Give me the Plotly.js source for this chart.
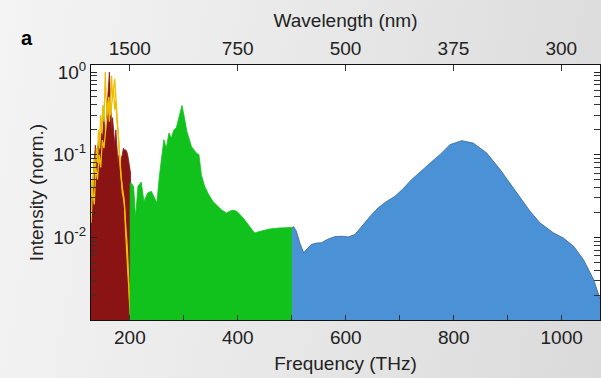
<!DOCTYPE html>
<html>
<head>
<meta charset="utf-8">
<script src="https://cdn.plot.ly/plotly-3.0.1.min.js"></script>
<style>
html,body{margin:0;padding:0;}
body{width:601px;height:378px;background:linear-gradient(100deg,#f4f4f4 0%,#e9e9e9 45%,#dadada 100%);overflow:hidden;}
#chart{width:601px;height:378px;}
</style>
</head>
<body>
<div id="chart"></div>
<script>
// ---- data ----
const FLOOR = 1e-4;
const SPEED_OF_LIGHT = 299792.458; // nm*THz

const redFreq = [128,130,132,134,136,138,140,142,144,146,148,150,151.5,153,155,157,159,160.5,162,163.5,165,166.5,168,170,172,174,176,178,180,182,184,186,188,190,192,194,196,198,200,201.3];
const redInt  = [0.02,0.034,0.05,0.08,0.13,0.09,0.11,0.15,0.1,0.14,0.2,0.15,0.34,0.22,0.15,0.3,0.5,0.8,1.0,0.6,0.35,0.2,0.28,0.18,0.13,0.2,0.12,0.08,0.1,0.065,0.09,0.1,0.12,0.113,0.115,0.11,0.1,0.08,0.07,0.06];

const yellowAFreq = [128,130,132,134,136,138,140,142,144,146,148,150,152,153.5,154.5,156,158,160,162,164,166,168,170,172,174,176,178,180,182,184,186,188,190,192,194,196,198,199,200,201];
const yellowAInt  = [0.03,0.05,0.04,0.09,0.06,0.12,0.08,0.2,0.12,0.3,0.18,0.4,0.25,0.6,1.0,0.5,0.3,0.45,0.25,0.4,0.9,0.5,0.6,0.35,0.45,0.25,0.2,0.12,0.08,0.05,0.035,0.03,0.025,0.012,0.006,0.004,0.0025,0.0018,0.0012,0.001];

const yellowBFreq = [128,131,134,137,140,143,146,149,152,155,158,161,164,167,170,172,174,176,178,180,183,186,189,192,195,198,200];
const yellowBInt  = [0.015,0.04,0.025,0.07,0.05,0.1,0.07,0.15,0.12,0.2,0.35,0.5,0.3,0.45,0.6,0.83,0.5,0.3,0.2,0.14,0.06,0.04,0.03,0.015,0.008,0.003,0.0015];

const greenFreq = [200.5,203,207,210.6,215,221,226,233,239.7,245.8,250,255,259.4,263,267.5,272.4,276.8,281.6,286,291,296.5,300,305.7,314,323,328,332.5,338.6,346,354,362,369.6,379,387,394,400,409.6,422,431,440.6,459,477.7,495,501];
const greenInt  = [0.045,0.045,0.041,0.0172,0.0414,0.0467,0.0272,0.0344,0.036,0.03,0.026,0.0573,0.1,0.152,0.12,0.183,0.159,0.2,0.21,0.278,0.394,0.305,0.191,0.126,0.105,0.1,0.057,0.0414,0.033,0.0272,0.024,0.0216,0.0197,0.021,0.0212,0.0201,0.0172,0.0136,0.0113,0.0118,0.0126,0.013,0.0132,0.0132];

const blueFreq = [501,503,508,515,522,530,536.5,545,555,567,580,592,604.5,617,625,635,647,660,675,691,705,722,740,756,765,774.6,793,815,836,861,886,917,941.6,960,985,1003,1022,1040,1059,1071];
const blueInt  = [0.0132,0.0135,0.012,0.0085,0.0065,0.0075,0.0082,0.0085,0.0086,0.0095,0.0102,0.0103,0.0101,0.0108,0.0125,0.0149,0.0185,0.0227,0.027,0.0313,0.038,0.0499,0.064,0.0794,0.0887,0.1,0.132,0.1476,0.138,0.105,0.0659,0.0344,0.0206,0.0149,0.0113,0.0098,0.0078,0.0054,0.0031,0.0018];

const freqTicks = [200,400,600,800,1000];
const wavelengthTicks = [1500,750,500,375,300];
const yTickVals = [0.01,0.1,1];
const yTickText = ['10<sup>-2</sup>','10<sup>-1</sup>','10<sup>0</sup>'];
const yMinorMantissas = [2,3,4,5,6,7,8,9];
const yDecades = [0.001,0.01,0.1];

// ---- build ----
function filled(xs, ys, color, name) {
  return {
    x: [xs[0]].concat(xs, [xs[xs.length-1]]),
    y: [FLOOR].concat(ys, [FLOOR]),
    type: 'scatter', mode: 'lines', fill: 'toself',
    fillcolor: color, line: {color: color, width: 0.8},
    name: name, showlegend: false, hoverinfo: 'skip'
  };
}
const yMinorVals = [];
yDecades.forEach(d => yMinorMantissas.forEach(m => yMinorVals.push(d * m)));

const FAM = 'Liberation Sans, Arial, Helvetica, sans-serif';
const font = {family: FAM, size: 19, color: '#222'};

const traces = [
  filled(redFreq, redInt, '#8a1414', 'red'),
  {x: yellowBFreq, y: yellowBInt, type: 'scatter', mode: 'lines', line: {color: '#f0c000', width: 1.3}, showlegend: false},
  {x: yellowAFreq, y: yellowAInt, type: 'scatter', mode: 'lines', line: {color: '#efbd00', width: 1.3}, showlegend: false},
  filled(greenFreq, greenInt, '#12c21c', 'green'),
  filled(blueFreq, blueInt, '#4b91d6', 'blue'),
  {x: blueFreq, y: blueInt, type: 'scatter', mode: 'lines', line: {color: 'rgba(40,50,60,0.55)', width: 0.6}, showlegend: false},
  {x: [128, 1071], y: [1, 1], xaxis: 'x2', type: 'scatter', mode: 'lines', line: {width: 0}, opacity: 0, showlegend: false, hoverinfo: 'skip'}
];

const xr = [128, 1071];
const layout = {
  width: 601, height: 378,
  margin: {l: 91, r: 1, t: 65, b: 58},
  paper_bgcolor: 'rgba(0,0,0,0)',
  plot_bgcolor: '#ffffff',
  font: font,
  showlegend: false,
  xaxis: {
    range: xr, showgrid: false, zeroline: false,
    tickvals: freqTicks, ticks: 'inside', ticklen: 5, tickcolor: '#333', tickwidth: 1,
    minor: {dtick: 100, ticks: 'inside', ticklen: 5, tickcolor: '#333', tickwidth: 1},
    showline: true, linecolor: '#111', linewidth: 1, mirror: true,
    tickfont: font,
    title: {text: 'Frequency (THz)', font: font, standoff: 9}
  },
  xaxis2: {
    range: xr, overlaying: 'x', side: 'top', showgrid: false, zeroline: false,
    tickvals: wavelengthTicks.map(w => SPEED_OF_LIGHT / w),
    ticktext: wavelengthTicks.map(String),
    ticks: 'inside', ticklen: 6, tickcolor: '#333', tickwidth: 1, showline: false,
    ticklabelstandoff: 5,
    tickfont: font,
    title: {text: 'Wavelength (nm)', font: font, standoff: 5}
  },
  yaxis: {
    type: 'log', range: [-3, 0.085], showgrid: false, zeroline: false,
    tickvals: yTickVals, ticktext: yTickText,
    ticks: 'inside', ticklen: 6, tickcolor: '#222', tickwidth: 1,
    minor: {ticks: 'inside', ticklen: 4, tickcolor: '#333', tickwidth: 1, tickmode: 'array', tickvals: yMinorVals},
    showline: true, linecolor: '#111', linewidth: 1, mirror: 'allticks',
    tickfont: font,
    title: {text: 'Intensity (norm.)', font: font, standoff: 4}
  },
  annotations: [{
    text: '<b>a</b>', xref: 'paper', yref: 'paper', x: -0.126, y: 1.106,
    xanchor: 'center', yanchor: 'middle', showarrow: false,
    font: {family: FAM, size: 20, color: '#000'}
  }]
};

Plotly.newPlot('chart', traces, layout, {staticPlot: true, displayModeBar: false});
</script>
</body>
</html>
